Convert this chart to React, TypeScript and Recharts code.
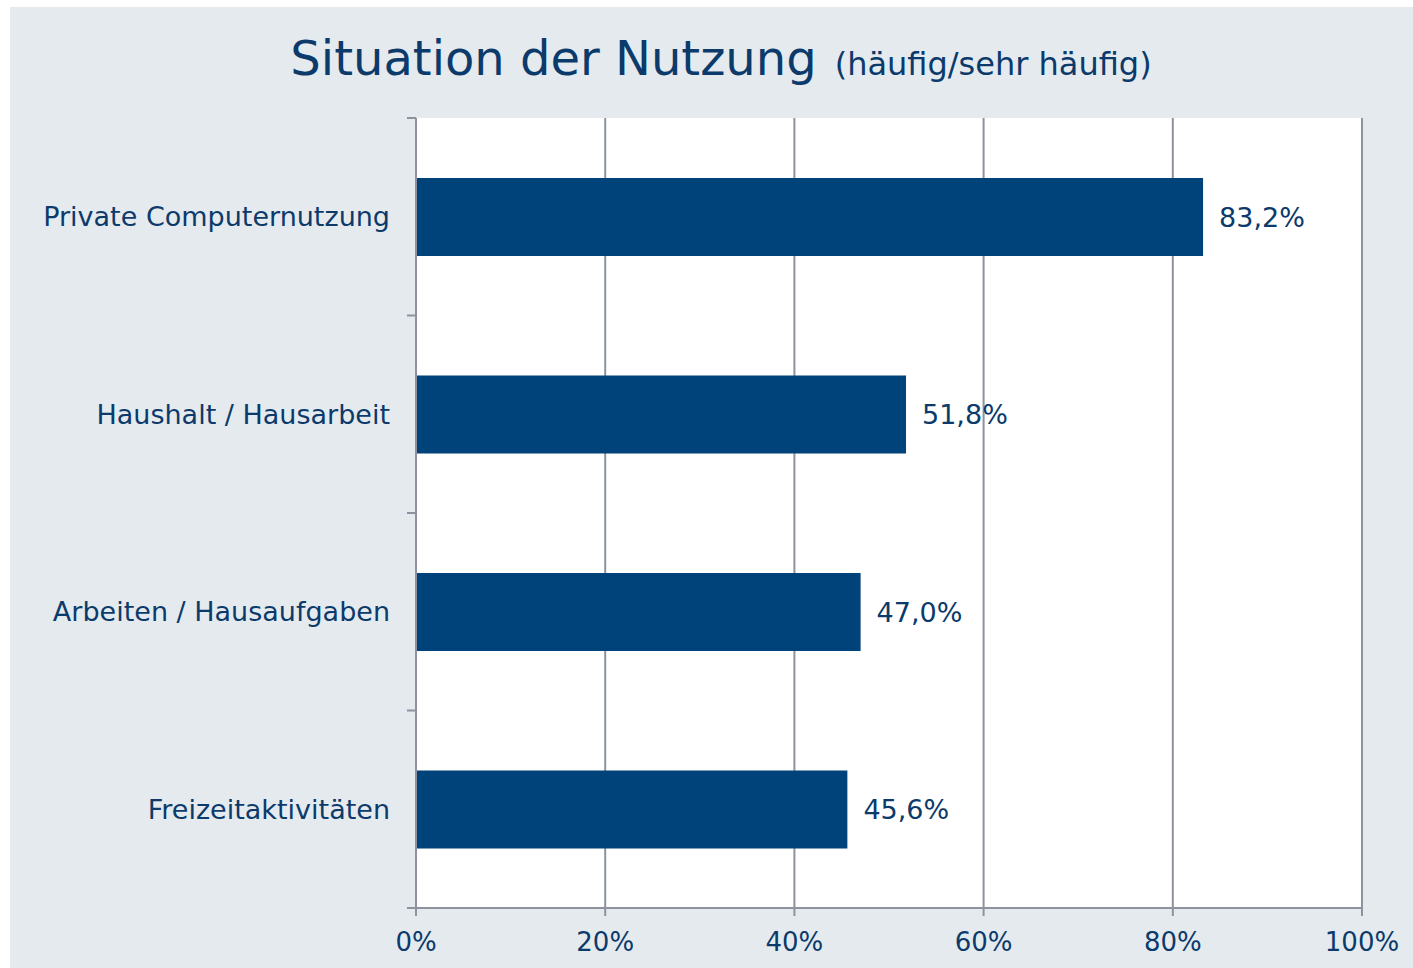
import { BarChart, Bar, XAxis, YAxis, CartesianGrid, LabelList } from 'recharts';

const categories = [
  'Private Computernutzung',
  'Haushalt / Hausarbeit',
  'Arbeiten / Hausaufgaben',
  'Freizeitaktivitäten',
];
const shares = [83.2, 51.8, 47.0, 45.6];
const xTicks = [0, 20, 40, 60, 80, 100];

const data = categories.map((name, i) => ({ name, value: shares[i] }));

const TEXT = '#0b3a6b';
const BAR = '#00437a';
const AXIS = '#8d929e';
const FONT = '"DejaVu Sans", Verdana, sans-serif';
const LABEL_GAP = 26;

const pct = (v: number) => v.toFixed(1).replace('.', ',') + '%';

// category label plus tick marks on the band edges (Excel style)
function CategoryTick(props: any) {
  const { x, y, payload, index, visibleTicksCount } = props;
  const half = payload.offset || 0;
  const axisX = x + LABEL_GAP;
  return (
    <g>
      <text x={x} y={y} dy="0.355em" textAnchor="end" fill={TEXT} fontSize={27} fontFamily={FONT}>
        {payload.value}
      </text>
      <line x1={axisX - 9} x2={axisX} y1={y - half} y2={y - half} stroke={AXIS} strokeWidth={2} />
      {index === visibleTicksCount - 1 && (
        <line x1={axisX - 9} x2={axisX} y1={y + half} y2={y + half} stroke={AXIS} strokeWidth={2} />
      )}
    </g>
  );
}

export default function App() {
  return (
    <div style={{ position: 'absolute', left: 0, top: 0, width: 1413, height: 968, background: '#fff', fontFamily: FONT }}>
      <div style={{ position: 'absolute', left: 10, top: 7, width: 1403, height: 961, background: '#e5eaef' }} />
      <svg width={1413} height={968} style={{ position: 'absolute', left: 0, top: 0 }}>
        <text x={721} y={75} textAnchor="middle" fill={TEXT} fontFamily={FONT}>
          <tspan fontSize={48}>Situation der Nutzung</tspan>
          <tspan fontSize={32} dx={18}>(häufig/sehr häufig)</tspan>
        </text>
      </svg>
      <div style={{ position: 'absolute', left: 0, top: 0 }}>
        <BarChart
          width={1413}
          height={968}
          data={data}
          layout="vertical"
          margin={{ top: 118, right: 51, bottom: 0, left: 0 }}
          barSize={78}
        >
          <CartesianGrid horizontal={false} stroke={AXIS} strokeWidth={2} fill="#fff" />
          <XAxis
            type="number"
            domain={[0, 100]}
            ticks={xTicks}
            tickFormatter={(v: number) => v + '%'}
            height={60}
            stroke={AXIS}
            strokeWidth={2}
            tickSize={8}
            tickMargin={17}
            tick={{ fill: TEXT, fontSize: 26, fontFamily: FONT }}
          />
          <YAxis
            type="category"
            dataKey="name"
            width={416}
            stroke={AXIS}
            strokeWidth={2}
            tickLine={false}
            tickSize={0}
            tickMargin={LABEL_GAP}
            tick={<CategoryTick />}
          />
          <Bar dataKey="value" fill={BAR} isAnimationActive={false}>
            <LabelList
              dataKey="value"
              position="right"
              offset={16}
              formatter={(v: any) => pct(Number(v))}
              fill={TEXT}
              fontSize={27}
              fontFamily={FONT}
            />
          </Bar>
        </BarChart>
      </div>
    </div>
  );
}
